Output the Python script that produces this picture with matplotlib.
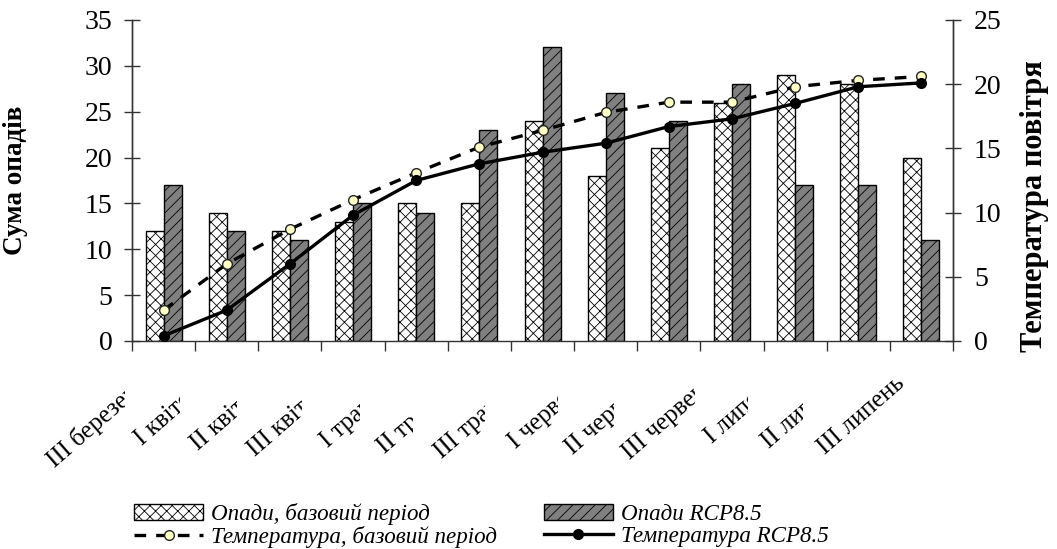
import numpy as np
import matplotlib
matplotlib.use('Agg')
import matplotlib.pyplot as plt
from matplotlib.transforms import Bbox, TransformedBbox, blended_transform_factory

plt.rcParams['font.family'] = ['Liberation Serif', 'DejaVu Serif']
plt.rcParams['hatch.linewidth'] = 0.6
plt.rcParams['axes.unicode_minus'] = False

# ---- data ----
decades = ['III березень', 'I квітень', 'II квітень', 'III квітень',
           'I травень', 'II травень', 'III травень', 'I червень',
           'II червень', 'III червень', 'I липень', 'II липень', 'III липень']
precip_base = [12, 14, 12, 13, 15, 15, 24, 18, 21, 26, 29, 28, 20]
precip_rcp = [17, 12, 11, 15, 14, 23, 32, 27, 24, 28, 17, 17, 11]
temp_base = [2.4, 6.0, 8.7, 11.0, 13.1, 15.1, 16.4, 17.8, 18.6, 18.6, 19.8, 20.3, 20.6]
temp_rcp = [0.4, 2.4, 6.0, 9.8, 12.5, 13.8, 14.7, 15.4, 16.7, 17.3, 18.5, 19.8, 20.1]

# where each slanted label gets cut off (category units)
label_clip = [-0.61, 0.26, 1.16, 2.19, 3.11, 3.95, 5.09, 6.24, 7.13, 8.42, 9.26, 10.13, 13.0]

x = np.arange(len(decades))
bw = 0.285

fig = plt.figure(figsize=(10.57, 5.49), dpi=100)
ax = fig.add_axes([0.1249, 0.3789, 0.7767, 0.5847])
ax2 = ax.twinx()

b1 = ax.bar(x, precip_base, width=-bw, align='edge', color='white',
            edgecolor='black', linewidth=1.0, hatch='xxx',
            label='Опади, базовий період')
b2 = ax.bar(x, precip_rcp, width=bw, align='edge', color='#808080',
            edgecolor='black', linewidth=1.0, hatch='///',
            label='Опади RCP8.5')

l1, = ax2.plot(x, temp_base, color='black', lw=2.4, dashes=(3.5, 3),
               marker='o', ms=7, mfc='#ffffc8', mec='#222222', mew=1.0,
               label='Температура, базовий період')
l2, = ax2.plot(x, temp_rcp, color='black', lw=2.4, marker='o', ms=7,
               mfc='black', mec='black', label='Температура RCP8.5')

ax.set_xlim(-0.5, len(decades) - 0.5)
ax.set_ylim(0, 35)
ax2.set_ylim(0, 25)
ax.set_yticks(np.arange(0, 36, 5))
ax2.set_yticks(np.arange(0, 26, 5))
ax.set_xticks(np.arange(-0.5, len(decades), 1))
ax.set_xticklabels([])

for a in (ax, ax2):
    a.spines['top'].set_visible(False)
    for s in a.spines.values():
        s.set_color('#333333')
        s.set_linewidth(1.0)
ax2.spines['bottom'].set_visible(False)

ax.tick_params(axis='y', direction='inout', length=12, width=1, color='#333333',
               labelsize=20, pad=8)
ax2.tick_params(axis='y', direction='inout', length=12, width=1, color='#333333',
                labelsize=20, pad=9)
ax.tick_params(axis='x', direction='out', length=7, width=1, color='#333333')

ax.set_ylabel('Сума опадів', fontsize=19.5, fontweight='bold')
ax.yaxis.set_label_coords(-0.127, 0.5)
ax2.set_ylabel('Температура повітря', fontsize=22, fontweight='bold', rotation=90)
ax2.yaxis.set_label_coords(1.082, 0.42)

# slanted category labels, each one cut off like in the original
lab_tr = blended_transform_factory(ax.transData, ax.transAxes)
clip_tr = blended_transform_factory(ax.transData, fig.transFigure)
for i, (lab, cut) in enumerate(zip(decades, label_clip)):
    t = fig.text(i - 0.42, -0.097, lab, transform=lab_tr, rotation=41,
                 rotation_mode='anchor', ha='right', va='top', fontsize=18)
    t.set_clip_box(TransformedBbox(Bbox([[-2, 0], [cut, 1]]), clip_tr))
    t.set_clip_on(True)

fig.legend(handles=[b1, l1, b2, l2], ncol=2, loc='upper left',
           bbox_to_anchor=(0.127, 0.084), frameon=False,
           prop={'style': 'italic', 'size': 16.6}, handlelength=3,
           handletextpad=0.35, columnspacing=2.0, labelspacing=0.05,
           borderaxespad=0, borderpad=0)

fig.savefig('out.png', dpi=100)
